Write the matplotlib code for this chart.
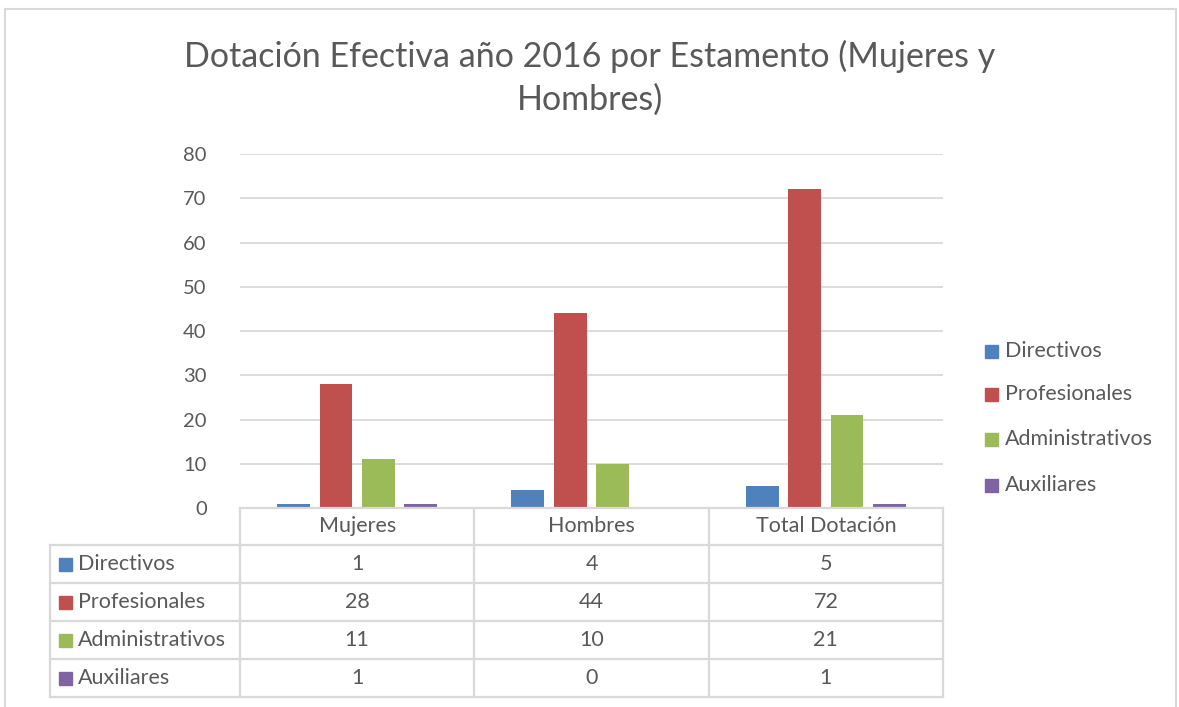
import matplotlib.pyplot as plt
from matplotlib.lines import Line2D
from matplotlib.patches import Rectangle

plt.rcParams['font.family'] = ['Lato', 'DejaVu Sans']

categories = ["Mujeres", "Hombres", "Total Dotación"]
series = ["Directivos", "Profesionales", "Administrativos", "Auxiliares"]
directivos = [1, 4, 5]
profesionales = [28, 44, 72]
administrativos = [11, 10, 21]
auxiliares = [1, 0, 1]
values = [directivos, profesionales, administrativos, auxiliares]
colors = ["#4F81BD", "#C0504D", "#9BBB59", "#8064A2"]
yticks = [0, 10, 20, 30, 40, 50, 60, 70, 80]

TXT = "#595959"
GRID = "#D9D9D9"
W, H = 1179, 707
FS = 15.5

fig = plt.figure(figsize=(W / 100, H / 100), dpi=100)

def fx(x):
    return x / W

def fy(y):
    return 1 - y / H

ax_l, ax_r, ax_t, ax_b = 240, 943, 154, 508
ax = fig.add_axes([fx(ax_l), fy(ax_b), fx(ax_r - ax_l), (ax_b - ax_t) / H])

step = 0.181
bw = 0.14
for k, (name, vals, c) in enumerate(zip(series, values, colors)):
    xs = [i + (k - 1.5) * step for i in range(len(categories))]
    ax.bar(xs, vals, width=bw, color=c, label=name, zorder=3)

ax.set_xlim(-0.5, len(categories) - 0.5)
ax.set_ylim(0, 80)
ax.set_yticks(yticks)
ax.set_xticks([])
ax.tick_params(axis='y', length=0, labelsize=14.5, labelcolor=TXT, pad=24)
ax.grid(axis='y', color=GRID, linewidth=1.3, zorder=0)
for s in ax.spines.values():
    s.set_visible(False)

fig.text(0.5, fy(78), "Dotación Efectiva año 2016 por Estamento (Mujeres y\nHombres)",
         ha='center', va='center', fontsize=24.5, color=TXT, linespacing=1.4)

# data table under the chart
row_h = 38
col_x = [ax_l + i * (ax_r - ax_l) / len(categories) for i in range(len(categories) + 1)]
tab_l = 50
lw = 1.6

def hline(x0, x1, y):
    fig.add_artist(Line2D([fx(x0), fx(x1)], [fy(y), fy(y)], color=GRID, lw=lw))

def vline(x, y0, y1):
    fig.add_artist(Line2D([fx(x), fx(x)], [fy(y0), fy(y1)], color=GRID, lw=lw))

hdr_b = ax_b + 37
hline(ax_l, ax_r, ax_b)
for r in range(len(series) + 1):
    hline(tab_l, ax_r, hdr_b + r * row_h)
bottom = hdr_b + len(series) * row_h
vline(tab_l, hdr_b, bottom)
for x in col_x:
    vline(x, ax_b, bottom)

for i, cat in enumerate(categories):
    xc = (col_x[i] + col_x[i + 1]) / 2
    fig.text(fx(xc), fy(ax_b + 18), cat, ha='center', va='center', fontsize=FS, color=TXT)
    for r in range(len(series)):
        yc = hdr_b + r * row_h + row_h / 2
        fig.text(fx(xc), fy(yc), str(values[r][i]), ha='center', va='center', fontsize=FS, color=TXT)

for r, (name, c) in enumerate(zip(series, colors)):
    yc = hdr_b + r * row_h + row_h / 2
    fig.add_artist(Rectangle((fx(59), fy(yc + 6.5)), fx(13), 13 / H, color=c))
    fig.text(fx(78), fy(yc), name, ha='left', va='center', fontsize=FS, color=TXT)

# legend on the right
leg_y = [351, 394, 439, 485]
for name, c, y in zip(series, colors, leg_y):
    fig.add_artist(Rectangle((fx(985), fy(y + 6.5)), fx(13), 13 / H, color=c))
    fig.text(fx(1005), fy(y), name, ha='left', va='center', fontsize=FS, color=TXT)

# chart frame
fig.add_artist(Line2D([fx(5), fx(1176)], [fy(9), fy(9)], color=GRID, lw=1.5))
fig.add_artist(Line2D([fx(5), fx(5)], [fy(9), 0], color=GRID, lw=1.5))
fig.add_artist(Line2D([fx(1176), fx(1176)], [fy(9), 0], color=GRID, lw=1.5))

fig.savefig("out.png", dpi=100)
